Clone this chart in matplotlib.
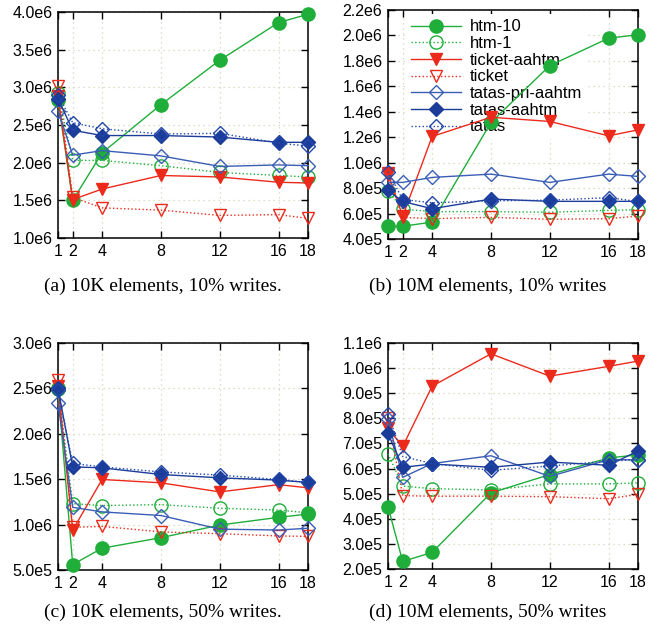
import numpy as np
import matplotlib
matplotlib.use("Agg")
import matplotlib.pyplot as plt
from matplotlib.ticker import FuncFormatter

# ============================================================
# DATA
# ============================================================
threads = [1, 2, 4, 8, 12, 16, 18]

series_names = ["htm-10", "htm-1", "ticket-aahtm", "ticket",
                "tatas-pri-aahtm", "tatas-aahtm", "tatas"]

# (a) 10K elements, 10% writes
a_htm10 = [2.83e6, 1.50e6, 2.13e6, 2.77e6, 3.36e6, 3.86e6, 3.97e6]
a_htm1 = [2.92e6, 2.03e6, 2.03e6, 1.96e6, 1.87e6, 1.83e6, 1.81e6]
a_ticket_aahtm = [2.88e6, 1.51e6, 1.65e6, 1.83e6, 1.81e6, 1.74e6, 1.73e6]
a_ticket = [3.02e6, 1.54e6, 1.40e6, 1.37e6, 1.30e6, 1.31e6, 1.26e6]
a_tatas_pri = [2.69e6, 2.10e6, 2.16e6, 2.09e6, 1.95e6, 1.97e6, 1.96e6]
a_tatas_aahtm = [2.85e6, 2.43e6, 2.36e6, 2.36e6, 2.34e6, 2.27e6, 2.27e6]
a_tatas = [2.90e6, 2.53e6, 2.45e6, 2.38e6, 2.39e6, 2.26e6, 2.22e6]

# (b) 10M elements, 10% writes
b_htm10 = [5.0e5, 5.0e5, 5.33e5, 1.316e6, 1.763e6, 1.978e6, 2.006e6]
b_htm1 = [7.8e5, 6.35e5, 6.15e5, 6.15e5, 6.1e5, 6.25e5, 6.3e5]
b_ticket_aahtm = [9.18e5, 5.78e5, 1.206e6, 1.357e6, 1.324e6, 1.211e6, 1.258e6]
b_ticket = [9.0e5, 5.7e5, 5.6e5, 5.7e5, 5.55e5, 5.6e5, 5.8e5]
b_tatas_pri = [8.45e5, 8.45e5, 8.84e5, 9.1e5, 8.45e5, 9.1e5, 8.92e5]
b_tatas_aahtm = [7.82e5, 6.95e5, 6.38e5, 7.14e5, 6.96e5, 6.96e5, 6.96e5]
b_tatas = [9.3e5, 7.1e5, 6.85e5, 7.0e5, 7.05e5, 7.25e5, 6.95e5]

# (c) 10K elements, 50% writes
c_htm10 = [2.49e6, 5.6e5, 7.4e5, 8.56e5, 9.95e5, 1.08e6, 1.116e6]
c_htm1 = [2.50e6, 1.23e6, 1.21e6, 1.22e6, 1.18e6, 1.16e6, 1.13e6]
c_ticket_aahtm = [2.53e6, 9.4e5, 1.497e6, 1.46e6, 1.36e6, 1.44e6, 1.405e6]
c_ticket = [2.59e6, 9.7e5, 9.8e5, 9.2e5, 9.0e5, 8.75e5, 8.7e5]
c_tatas_pri = [2.34e6, 1.19e6, 1.14e6, 1.10e6, 9.5e5, 9.4e5, 9.6e5]
c_tatas_aahtm = [2.50e6, 1.636e6, 1.625e6, 1.552e6, 1.515e6, 1.49e6, 1.464e6]
c_tatas = [2.48e6, 1.673e6, 1.636e6, 1.58e6, 1.545e6, 1.497e6, 1.464e6]

# (d) 10M elements, 50% writes
d_htm10 = [4.48e5, 2.3e5, 2.66e5, 5.03e5, 5.76e5, 6.42e5, 6.55e5]
d_htm1 = [6.59e5, 5.3e5, 5.2e5, 5.15e5, 5.39e5, 5.39e5, 5.43e5]
d_ticket_aahtm = [7.6e5, 6.88e5, 9.28e5, 1.057e6, 9.68e5, 1.007e6, 1.028e6]
d_ticket = [8.0e5, 4.92e5, 4.9e5, 4.9e5, 4.88e5, 4.8e5, 4.97e5]
d_tatas_pri = [7.96e5, 5.65e5, 6.2e5, 6.51e5, 5.69e5, 6.35e5, 6.35e5]
d_tatas_aahtm = [7.4e5, 6.05e5, 6.18e5, 6.05e5, 6.26e5, 6.13e5, 6.7e5]
d_tatas = [8.17e5, 6.48e5, 6.2e5, 5.93e5, 6.1e5, 6.3e5, 6.35e5]

captions = ["(a) 10K elements, 10% writes.", "(b) 10M elements, 10% writes",
            "(c) 10K elements, 50% writes.", "(d) 10M elements, 50% writes"]

ylims = [(1.0e6, 4.0e6), (4.0e5, 2.2e6), (5.0e5, 3.0e6), (2.0e5, 1.1e6)]
ysteps = [5.0e5, 2.0e5, 5.0e5, 1.0e5]

panels = [
    [a_htm10, a_htm1, a_ticket_aahtm, a_ticket, a_tatas_pri, a_tatas_aahtm, a_tatas],
    [b_htm10, b_htm1, b_ticket_aahtm, b_ticket, b_tatas_pri, b_tatas_aahtm, b_tatas],
    [c_htm10, c_htm1, c_ticket_aahtm, c_ticket, c_tatas_pri, c_tatas_aahtm, c_tatas],
    [d_htm10, d_htm1, d_ticket_aahtm, d_ticket, d_tatas_pri, d_tatas_aahtm, d_tatas],
]

# ============================================================
# STYLES
# ============================================================
GREEN = "#1fae3a"
RED = "#ec2a1c"
BLUE_PRI = "#3a5db5"
BLUE_DARK = "#1b3c98"
BLUE = "#2348ac"

styles = [
    dict(color=GREEN, ls="-", marker="o", mfc=GREEN, ms=9.5),
    dict(color=GREEN, ls=":", marker="o", mfc="none", ms=9.5),
    dict(color=RED, ls="-", marker="v", mfc=RED, ms=9),
    dict(color=RED, ls=":", marker="v", mfc="none", ms=9),
    dict(color=BLUE_PRI, ls="-", marker="D", mfc="none", ms=7.5),
    dict(color=BLUE_DARK, ls="-", marker="D", mfc=BLUE_DARK, ms=7.5),
    dict(color=BLUE, ls=":", marker="D", mfc="none", ms=7.5),
]


def sci_fmt(v, pos):
    if v <= 0:
        return "0"
    e = int(np.floor(np.log10(v) + 1e-9))
    m = v / 10 ** e
    return f"{m:.1f}e{e}"


plt.rcParams['font.family'] = ['Liberation Sans', 'DejaVu Sans']

fig = plt.figure(figsize=(6.5, 6.34), dpi=100)

W, H = 650.0, 634.0
boxes = [(58, 12, 250, 226), (388, 10, 250, 229),
         (58, 343, 250, 227), (388, 343, 250, 226)]

axes = []
for (x0, y0, w, h) in boxes:
    axes.append(fig.add_axes([x0 / W, 1 - (y0 + h) / H, w / W, h / H]))

for i, ax in enumerate(axes):
    for j, ys in enumerate(panels[i]):
        st = styles[j]
        ax.plot(threads, ys, color=st["color"], linestyle=st["ls"],
                linewidth=1.0, marker=st["marker"], markersize=st["ms"],
                markerfacecolor=st["mfc"], markeredgecolor=st["color"],
                markeredgewidth=1.0, label=series_names[j],
                clip_on=False, zorder=3)

    lo, hi = ylims[i]
    ax.set_xlim(1, 18)
    ax.set_ylim(lo, hi)
    ax.set_xticks(threads)
    ax.set_yticks(np.arange(lo, hi + ysteps[i] / 2, ysteps[i]))
    ax.yaxis.set_major_formatter(FuncFormatter(sci_fmt))

    ax.set_axisbelow(True)
    ax.grid(True, linestyle=(0, (1, 3)), color="#d2d2b8", linewidth=0.9)
    ax.tick_params(direction="in", length=5, width=1, top=True, right=True,
                   labelsize=11.5, pad=4)
    for sp in ax.spines.values():
        sp.set_linewidth(1.1)

# ============================================================
# LEGEND (panel b)
# ============================================================
leg = axes[1].legend(loc="upper left", bbox_to_anchor=(0.06, 0.995),
                     borderaxespad=0.2, frameon=True, fancybox=False,
                     edgecolor="none", facecolor="white", framealpha=1.0,
                     fontsize=12, handlelength=3.0, handletextpad=0.5,
                     labelspacing=0.1, borderpad=0.3)
leg.set_zorder(2.5)

# ============================================================
# CAPTIONS
# ============================================================
cap_pos = [(0.25, 1 - 286 / H), (0.75, 1 - 286 / H),
           (0.25, 1 - 612 / H), (0.75, 1 - 612 / H)]
for (cx, cy), txt in zip(cap_pos, captions):
    fig.text(cx, cy, txt, ha="center", va="center", fontsize=14,
             family="Liberation Serif")

fig.savefig("out.png", dpi=100)
